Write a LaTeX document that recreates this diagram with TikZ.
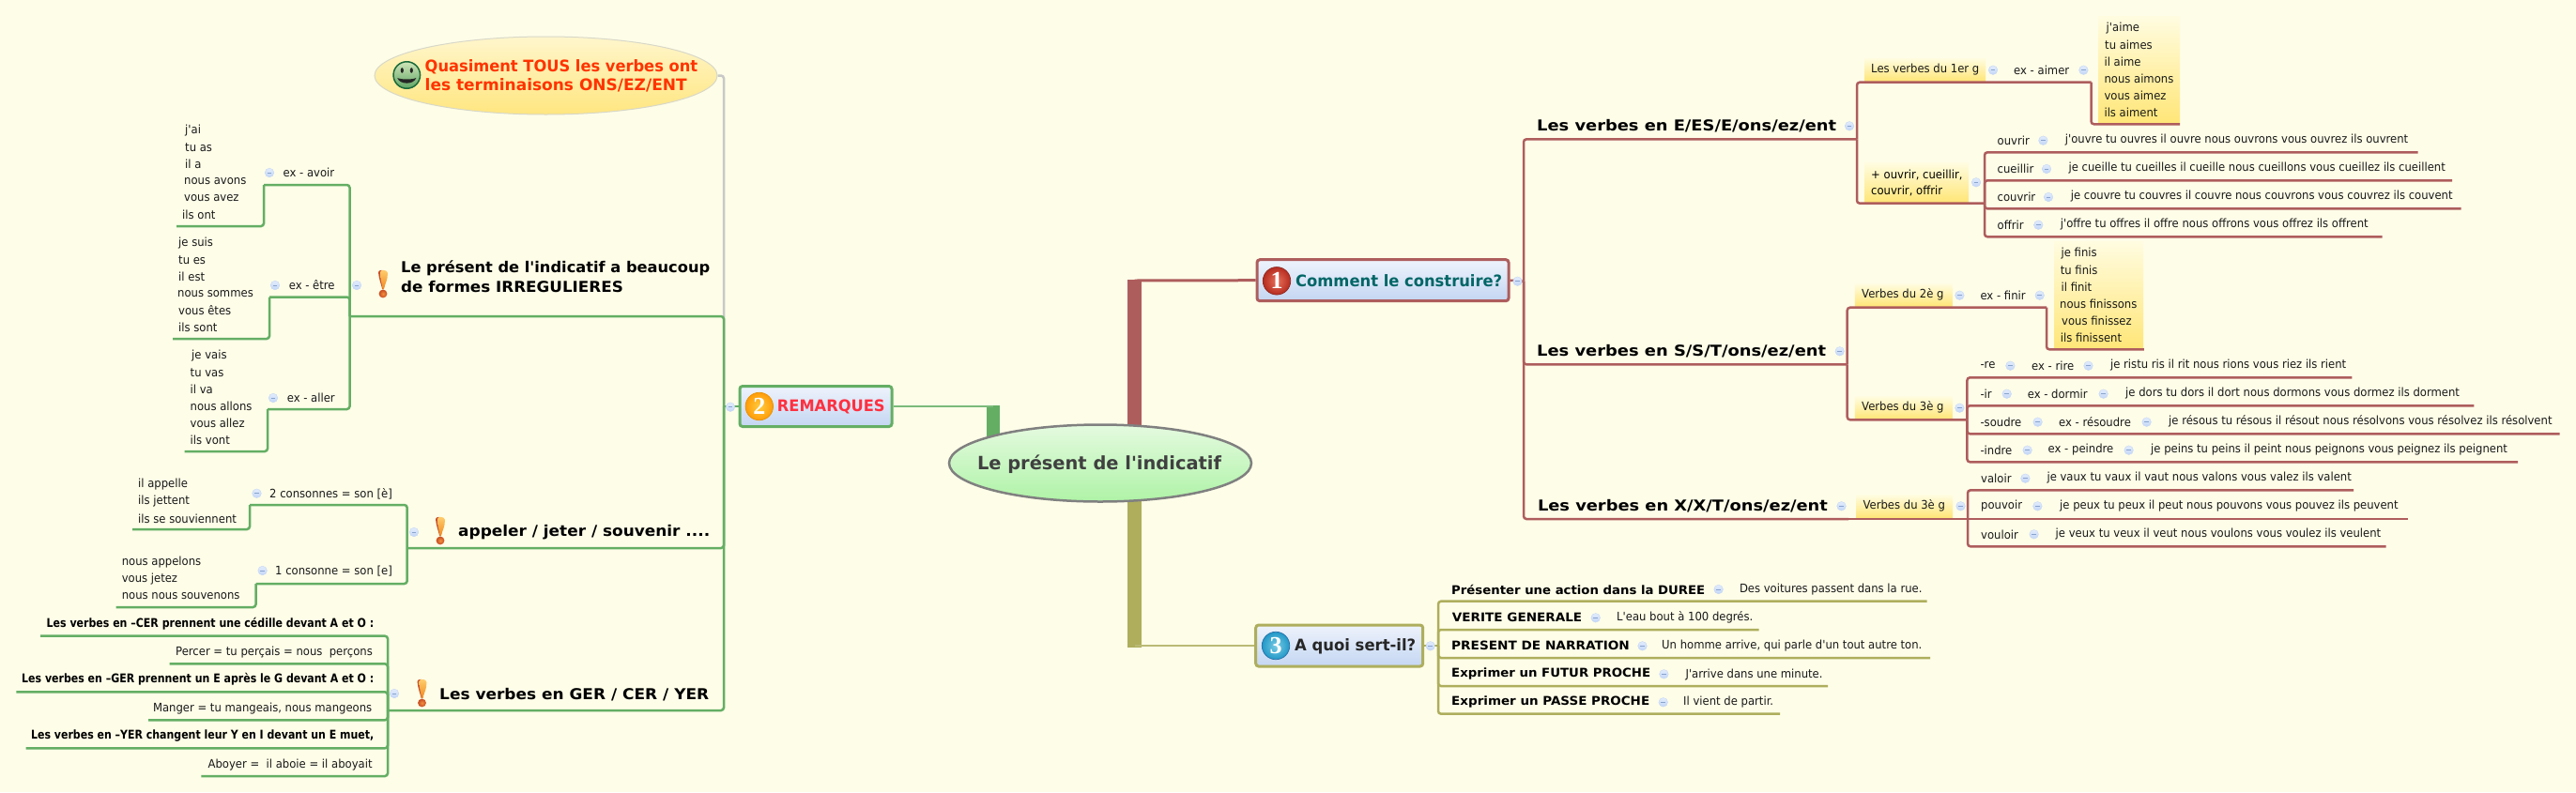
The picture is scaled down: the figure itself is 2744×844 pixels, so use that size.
\documentclass[tikz,border=0pt]{standalone}
\usepackage{fontspec}
\usetikzlibrary{shapes.geometric,calc}
\setmainfont{DejaVu Sans}
\newfontfamily\smf[FakeStretch=0.93]{DejaVu Sans}
\newfontfamily\bdf{DejaVu Sans}
\newfontfamily\numf{Liberation Serif}
\definecolor{bgc}{HTML}{FEFDE8}
\definecolor{rc}{HTML}{AE5D5D}
\definecolor{gc}{HTML}{64AE64}
\definecolor{oc}{HTML}{AEAE5D}
\definecolor{grayc}{HTML}{C8C8C8}
\definecolor{colT}{HTML}{E2ECFC}
\definecolor{colB}{HTML}{C2D6F8}
\definecolor{colD}{HTML}{C5D6F4}
\definecolor{colM}{HTML}{8AA4CC}
\definecolor{yT}{HTML}{FFFCE0}
\definecolor{yB}{HTML}{FFE678}
\definecolor{bT}{HTML}{EEF3FC}
\definecolor{bB}{HTML}{C4D6F2}
\definecolor{exT}{HTML}{FFCF70}
\definecolor{exB}{HTML}{F08A20}
\definecolor{exE}{HTML}{C8502A}
\definecolor{exD}{HTML}{C84A20}
\definecolor{exL}{HTML}{F09040}
\definecolor{rootT}{HTML}{E4FADF}
\definecolor{rootB}{HTML}{AFF3A7}
\definecolor{oneI}{HTML}{E8705A}
\definecolor{oneO}{HTML}{B62C20}
\definecolor{oneD}{HTML}{8E2A22}
\definecolor{twoI}{HTML}{FFCC40}
\definecolor{twoO}{HTML}{FF9C08}
\definecolor{twoD}{HTML}{E89000}
\definecolor{threeI}{HTML}{78CCE4}
\definecolor{threeO}{HTML}{2298C8}
\definecolor{threeD}{HTML}{2870A8}
\definecolor{teal6}{HTML}{006666}
\definecolor{redT}{HTML}{FF3040}
\definecolor{qD}{HTML}{D8D8C8}
\definecolor{qT}{HTML}{FFF6CC}
\definecolor{qB}{HTML}{FFE680}
\definecolor{smD}{HTML}{1A6A3A}
\definecolor{smT}{HTML}{CFE4B8}
\definecolor{smB}{HTML}{5FA565}
\definecolor{orT}{HTML}{FF3300}
\newcounter{cc}
\tikzset{
 smt/.style={anchor=base west,inner sep=0pt,text=black!90,font=\smf\fontsize{12.5}{15}\selectfont},
 bds/.style={anchor=base west,inner sep=0pt,text=black,font=\bdf\bfseries\fontsize{12.8}{16}\selectfont},
 bdm/.style={anchor=base west,inner sep=0pt,text=black,font=\bdf\bfseries\fontsize{16}{18}\selectfont},
 bdl/.style={anchor=base west,inner sep=0pt,font=\bdf\bfseries\fontsize{17}{20}\selectfont},
 R/.style={draw=rc,line width=2.5pt,rounded corners=3pt},
 G/.style={draw=gc,line width=2.5pt,rounded corners=3pt},
 O/.style={draw=oc,line width=2.5pt,rounded corners=3pt},
 collapse/.style={circle,inner sep=0pt,minimum size=9.6pt,top color=colT,bottom color=colB,draw=colD,line width=.4pt,
   path picture={\draw[colM,line width=.9pt] ([xshift=-2.4pt]path picture bounding box.center) -- ([xshift=2.4pt]path picture bounding box.center);}},
 ybox/.style={anchor=north west,inner sep=0pt,top color=yT,bottom color=yB},
 mainbox/.style={rectangle,rounded corners=3pt,line width=3pt,top color=bT,bottom color=bB,inner sep=0pt},
 numb/.style={circle,inner sep=0pt,minimum size=29.5pt,text=white,line width=.7pt,font=\numf\bfseries\fontsize{26}{26}\selectfont},
}
\newcommand\T[5][smt]{\node[#1] (#2) at (#3,#4) {#5};}
\newcommand\FW[2]{\resizebox{#1pt}{\height}{#2}}
\newcommand\Br[5]{\coordinate (#2) at (#4,#5); \draw[#1] (#3) |- (#2);}
\newcommand\C[2]{\stepcounter{cc}\node[collapse] (c\arabic{cc}) at (#1,#2) {};}
\newcommand\Y[5]{\node[ybox,minimum width=#4pt-#2pt,minimum height=#5pt-#3pt] (#1) at (#2,#3) {};}
\newcommand\EX[2]{%
 \fill[exE] (#1-5,#2+3) .. controls (#1-5,#2) and (#1+3,#2) .. (#1+3.5,#2+4) -- (#1+3,#2+10) .. controls (#1+2.5,#2+14) and (#1+1.5,#2+18) .. (#1+0.8,#2+21) -- (#1-0.8,#2+21) .. controls (#1-2,#2+16) and (#1-4.5,#2+10) .. (#1-5,#2+3) -- cycle;
 \shade[top color=exT,bottom color=exB] (#1-3,#2+3) .. controls (#1-3,#2) and (#1+4.5,#2) .. (#1+5,#2+4) -- (#1+4.5,#2+9) .. controls (#1+4,#2+13) and (#1+1.5,#2+17) .. (#1+0.8,#2+21) -- (#1-0.4,#2+21) .. controls (#1-1,#2+16) and (#1-3,#2+10) .. (#1-3,#2+3) -- cycle;
 \shade[inner color=exL,outer color=exD] (#1,#2+26) circle (4.4pt);}
\begin{document}
\begin{tikzpicture}[x=1pt,y=-1pt]
\useasboundingbox (0,0) rectangle (2744,844);
\fill[bgc] (0,0) rectangle (2744,844);

% ---------- root connectors and boxes
\coordinate (rj) at (1208.5,299);
\coordinate (oj) at (1208.5,688);
\coordinate (gj) at (1058,433);
\coordinate (rootr) at (1208.5,493);
\coordinate (rootg) at (1058,493);
\fill[rc] ($(rootr)+(-7.5,0)$) rectangle ($(rj)+(7.5,-1.5)$);
\fill[oc] ($(rootr)+(-7.5,0)$) rectangle ($(oj)+(7.5,1.5)$);
\fill[gc] ($(rootg)+(-7,0)$) rectangle ($(gj)+(7,-1.5)$);
\node[ellipse,draw=black!50,line width=2.5pt,top color=rootT,bottom color=rootB,minimum width=322pt,minimum height=82pt,inner sep=0pt] (root) at (1172,493.5) {};
\node[anchor=base,inner sep=0pt,text=black!75,font=\bdf\bfseries\fontsize{19.5}{22}\selectfont] (roott) at (1171,500) {\FW{260}{Le présent de l'indicatif}};

\node[mainbox,draw=rc,minimum width=268pt,minimum height=44pt] (b1) at (1473,298.7) {};
\node[mainbox,draw=gc,minimum width=162pt,minimum height=43pt] (b2) at (869,433) {};
\node[mainbox,draw=oc,minimum width=178pt,minimum height=44pt] (b3) at (1426.7,688) {};
\draw[rc,line width=3pt] (rj) -- (b1.west);
\draw[gc!85!white,line width=2.5pt] (gj) -- (b2.east);
\draw[oc!85!white,line width=2.5pt] (oj) -- (b3.west);

\node[numb,inner color=oneI,outer color=oneO,draw=oneD] (n1) at (1360,299.3) {1};
\node[numb,inner color=twoI,outer color=twoO,draw=twoD] (n2) at (808.8,433) {2};
\node[numb,inner color=threeI,outer color=threeO,draw=threeD] (n3) at (1359,688) {3};
\T[bdl,text=teal6]{lb1}{1380}{305.7}{\FW{220}{Comment le construire?}}
\T[bdl,text=redT]{lb2}{827.7}{438}{\FW{114.8}{REMARQUES}}
\T[bdl,text=black!85]{lb3}{1379}{693}{\FW{129}{A quoi sert-il?}}

% ---------- left: smiley topic
\coordinate (gT) at (771,433);
\node[ellipse,draw=qD,line width=1pt,top color=qT,bottom color=qB,minimum width=365pt,minimum height=83pt,inner sep=0pt] (q) at (581.5,80.5) {};
\draw[grayc,line width=2.5pt,rounded corners=3pt] (q.east) -| (gT);
\node[circle,draw=smD,line width=1.5pt,top color=smT,bottom color=smB,minimum size=28.5pt,inner sep=0pt] (sm) at (433.3,80) {};
\fill[black!85] (428.3,75) ellipse (1.6pt and 2.8pt) (438.3,75) ellipse (1.6pt and 2.8pt);
\fill[black!85] (423.3,83) .. controls (427,85) and (439.6,85) .. (443.3,83) .. controls (441,90.5) and (425.6,90.5) .. (423.3,83) -- cycle;
\node[anchor=base west,inner sep=0pt,align=left,text=orT,font=\bdf\bfseries\fontsize{17}{20}\selectfont] (qt) at (452.5,96) {\FW{290.5}{Quasiment TOUS les verbes ont}\\\FW{279}{les terminaisons ONS/EZ/ENT}};

% ---------- green branches
\draw[G] (b2.west) -- (gT);
\C{778}{433.7}
\Br{G}{t1}{gT}{372.5}{337}
\Br{G}{t2}{gT}{433.7}{584}
\Br{G}{t3}{gT}{413}{757}

\node[anchor=base west,inner sep=0pt,align=left,font=\bdf\bfseries\fontsize{16}{21}\selectfont] (t1t) at (427,311) {\FW{329}{Le présent de l'indicatif a beaucoup}\\\FW{236.7}{de formes IRREGULIERES}};
\EX{408}{287}\C{380}{304}
\Br{G}{a1}{t1}{281}{197}
\T{a1t}{301.5}{188}{ex - avoir}\C{287}{184}
\Br{G}{a1l}{a1}{188}{241}
\T{l1}{197}{142}{j'ai}\T{l2}{197}{161}{tu as}\T{l3}{197}{179}{il a}\T{l4}{196}{196}{nous avons}\T{l5}{196}{214}{vous avez}\T{l6}{194}{233}{ils ont}
\Br{G}{a2}{t1}{287}{316.5}
\T{a2t}{307.6}{308}{ex - être}\C{293}{304}
\Br{G}{a2l}{a2}{184}{361}
\T{m1}{190}{262}{je suis}\T{m2}{190}{281}{tu es}\T{m3}{190}{299}{il est}\T{m4}{189}{316}{nous sommes}\T{m5}{190}{335}{vous êtes}\T{m6}{190}{353}{ils sont}
\Br{G}{a3}{t1}{285}{436}
\T{a3t}{305.6}{428}{ex - aller}\C{291}{424}
\Br{G}{a3l}{a3}{196.5}{481}
\T{n1t}{204}{382}{je vais}\T{n2t}{202.5}{401}{tu vas}\T{n3t}{202.5}{419}{il va}\T{n4t}{202.5}{437}{nous allons}\T{n5t}{202.5}{455}{vous allez}\T{n6t}{202.5}{473}{ils vont}

\T[bdm]{t2t}{488}{571.6}{\FW{268}{appeler / jeter / souvenir ....}}
\EX{469}{550}\C{441}{567}
\Br{G}{b1g}{t2}{266}{538}
\T{b1t}{287}{530}{2 consonnes = son [è]}\C{273.5}{525.7}
\Br{G}{b1l}{b1g}{141}{564}
\T{o1}{147}{519}{il appelle}\T{o2}{147}{537}{ils jettent}\T{o3}{147}{557}{ils se souviennent}
\Br{G}{b2g}{t2}{272.5}{622}
\T{b2t}{293}{612.7}{1 consonne = son [e]}\C{279.6}{608}
\Br{G}{b2l}{b2g}{123.5}{647}
\T{p1}{129.6}{602}{nous appelons}\T{p2}{129.6}{620}{vous jetez}\T{p3}{129.6}{638}{nous nous souvenons}

\T[bdm]{t3t}{468}{745}{\FW{287}{Les verbes en GER / CER / YER}}
\EX{449.5}{723}\C{420}{739}
\Br{G}{q1}{t3}{43}{677.7}
\T[bds]{q1t}{49.5}{668}{\FW{348.5}{Les verbes en –CER prennent une cédille devant A et O :}}
\Br{G}{q2}{t3}{180.6}{707.3}
\T{q2t}{187}{698}{Percer = tu perçais = nous\ \ perçons}
\Br{G}{q3}{t3}{17.3}{737.3}
\T[bds]{q3t}{23}{727.7}{\FW{375}{Les verbes en –GER prennent un E après le G devant A et O :}}
\Br{G}{q4}{t3}{158}{767.3}
\T{q4t}{162.8}{758}{Manger = tu mangeais, nous mangeons}
\Br{G}{q5}{t3}{27.5}{797.3}
\T[bds]{q5t}{33}{787.7}{\FW{365}{Les verbes en –YER changent leur Y en I devant un E muet,}}
\Br{G}{q6}{t3}{214.3}{827}
\T{q6t}{221.4}{818}{Aboyer =\ \ il aboie = il aboyait}

% ---------- red branches
\coordinate (rT) at (1623,299.7);
\draw[R] (b1.east) -- (rT);
\C{1616.5}{299.7}
\Br{R}{v1}{rT}{1978}{148.3}
\Br{R}{v2}{rT}{1967.7}{388.3}
\Br{R}{v3}{rT}{1969}{553}
\T[bdm]{v1t}{1637}{139.3}{\FW{319}{Les verbes en E/ES/E/ons/ez/ent}}\C{1970}{134.3}
\T[bdm]{v2t}{1637}{379.3}{\FW{308}{Les verbes en S/S/T/ons/ez/ent}}\C{1959.7}{374.3}
\T[bdm]{v3t}{1637.8}{544.3}{\FW{309}{Les verbes en X/X/T/ons/ez/ent}}\C{1961.5}{539.3}

% group 1
\Y{y1}{1986}{62}{2115}{86}
\Br{R}{s11}{v1}{2227.5}{87.7}
\T{s11t}{1993}{77.7}{Les verbes du 1er g}\C{2123}{74.7}
\T{s11e}{2145}{79.3}{ex - aimer}\C{2219.4}{74.7}
\Y{y1l}{2234.8}{17.3}{2322}{131}
\Br{R}{s11l}{s11}{2322}{132.3}
\T{u1}{2243.5}{33.3}{j'aime}\T{u2}{2242}{52.3}{tu aimes}\T{u3}{2241.3}{70.7}{il aime}\T{u4}{2241.3}{88.3}{nous aimons}\T{u5}{2241.3}{106.3}{vous aimez}\T{u6}{2241.3}{124.3}{ils aiment}
\Y{y2}{1986}{173.3}{2097}{215}
\Br{R}{s12}{v1}{2114}{216.7}
\node[anchor=base west,inner sep=0pt,align=left,font=\smf\fontsize{12.5}{17.7}\selectfont] (s12t) at (1993,207.7) {+ ouvrir, cueillir,\\couvrir, offrir};
\C{2105}{194.3}
\Br{R}{r1}{s12}{2575.5}{162.3}
\T{r1t}{2127.5}{154}{ouvrir}\C{2176.4}{149.7}\T{r1c}{2199.7}{152.7}{j'ouvre tu ouvres il ouvre nous ouvrons vous ouvrez ils ouvrent}
\Br{R}{r2}{s12}{2612}{192.3}
\T{r2t}{2127.5}{184}{cueillir}\C{2180}{180}\T{r2c}{2203.4}{182.7}{je cueille tu cueilles il cueille nous cueillons vous cueillez ils cueillent}
\Br{R}{r3}{s12}{2621.5}{222.3}
\T{r3t}{2127.5}{214}{couvrir}\C{2182}{210}\T{r3c}{2205.6}{212.7}{je couvre tu couvres il couvre nous couvrons vous couvrez ils couvent}
\Br{R}{r4}{s12}{2537.6}{252.3}
\T{r4t}{2127.5}{244}{offrir}\C{2171.3}{239.7}\T{r4c}{2194.6}{242.7}{j'offre tu offres il offre nous offrons vous offrez ils offrent}

% group 2
\Y{y3}{1975.7}{302.3}{2079.4}{326}
\Br{R}{s21}{v2}{2180}{327.7}
\T{s21t}{1983}{317.7}{Verbes du 2è g}\C{2087.4}{314.7}
\T{s21e}{2109.3}{319.3}{ex - finir}\C{2172.7}{314.7}
\Y{y3l}{2188}{257.3}{2283}{371}
\Br{R}{s21l}{s21}{2283.8}{372.3}
\T{w1}{2195.4}{273.3}{je finis}\T{w2}{2194.6}{292.3}{tu finis}\T{w3}{2195.4}{310.7}{il finit}\T{w4}{2194}{328.3}{nous finissons}\T{w5}{2196}{346.3}{vous finissez}\T{w6}{2194.6}{364.3}{ils finissent}
\Y{y4}{1975.7}{422.3}{2079.4}{446}
\Br{R}{s22}{v2}{2095.4}{447.3}
\T{s22t}{1983}{437.7}{Verbes du 3è g}\C{2087.4}{434.7}
\Br{R}{x1}{s22}{2505.4}{402.3}
\T{x1t}{2109.3}{392.7}{-re}\C{2141.4}{389.7}\T{x1e}{2164}{394}{ex - rire}\C{2224.5}{389.7}\T{x1c}{2247.9}{392.7}{je ristu ris il rit nous rions vous riez ils rient}
\Br{R}{x2}{s22}{2635.3}{432.3}
\T{x2t}{2109.3}{424}{-ir}\C{2137.7}{419.7}\T{x2e}{2159.6}{424}{ex - dormir}\C{2240.6}{419.7}\T{x2c}{2264}{422.7}{je dors tu dors il dort nous dormons vous dormez ils dorment}
\Br{R}{x3}{s22}{2726.5}{462.3}
\T{x3t}{2109.3}{454}{-soudre}\C{2170.6}{449.7}\T{x3e}{2193}{454}{ex - résoudre}\C{2286.6}{449.7}\T{x3c}{2310}{452.7}{je résous tu résous il résout nous résolvons vous résolvez ils résolvent}
\Br{R}{x4}{s22}{2682}{492.3}
\T{x4t}{2109.3}{484}{-indre}\C{2159.6}{479.7}\T{x4e}{2181.5}{482.7}{ex - peindre}\C{2267.6}{479.7}\T{x4c}{2291}{482.7}{je peins tu peins il peint nous peignons vous peignez ils peignent}

% group 3
\Y{y5}{1976.8}{527.3}{2080}{551.3}
\coordinate (s31) at (2096,553);
\draw[R] (v3) -- (s31);
\T{s31t}{1984.4}{542.7}{Verbes du 3è g}\C{2088.5}{539.3}
\Br{R}{z1}{s31}{2507}{522.3}
\T{z1t}{2110}{514.3}{valoir}\C{2157.4}{509.7}\T{z1c}{2180.3}{512.7}{je vaux tu vaux il vaut nous valons vous valez ils valent}
\coordinate (z2) at (2564.5,553);
\draw[R] (s31) -- (z2);
\T{z2t}{2110}{542.7}{pouvoir}\C{2170.4}{539.3}\T{z2c}{2194}{542.7}{je peux tu peux il peut nous pouvons vous pouvez ils peuvent}
\Br{R}{z3}{s31}{2541.6}{582.3}
\T{z3t}{2110}{574}{vouloir}\C{2166.6}{569.3}\T{z3c}{2189.5}{572.7}{je veux tu veux il veut nous voulons vous voulez ils veulent}

% ---------- olive branches
\coordinate (oT) at (1532,688);
\draw[O] (b3.east) -- (oT);
\C{1523.7}{688.3}
\Br{O}{k1}{oT}{2052.5}{640.7}
\T[bds]{k1t}{1546}{633.3}{\FW{270}{Présenter une action dans la DUREE}}\C{1830.6}{628}\T{k1c}{1852.8}{631.7}{Des voitures passent dans la rue.}
\Br{O}{k2}{oT}{1873.5}{671}
\T[bds]{k2t}{1546.7}{662.7}{\FW{138.3}{VERITE GENERALE}}\C{1699.7}{658.3}\T{k2c}{1722}{661.7}{L'eau bout à 100 degrés.}
\Br{O}{k3}{oT}{2056}{701}
\T[bds]{k3t}{1546}{692.7}{\FW{189.7}{PRESENT DE NARRATION}}\C{1749.5}{688.3}\T{k3c}{1770}{691.7}{Un homme arrive, qui parle d'un tout autre ton.}
\Br{O}{k4}{oT}{1947}{731}
\T[bds]{k4t}{1546}{721.7}{\FW{212}{Exprimer un FUTUR PROCHE}}\C{1772.4}{718.3}\T{k4c}{1795.4}{722.7}{J'arrive dans une minute.}
\Br{O}{k5}{oT}{1896}{760.7}
\T[bds]{k5t}{1546}{751.7}{\FW{211}{Exprimer un PASSE PROCHE}}\C{1771.7}{748.3}\T{k5c}{1793}{751.7}{Il vient de partir.}
\end{tikzpicture}
\end{document}
